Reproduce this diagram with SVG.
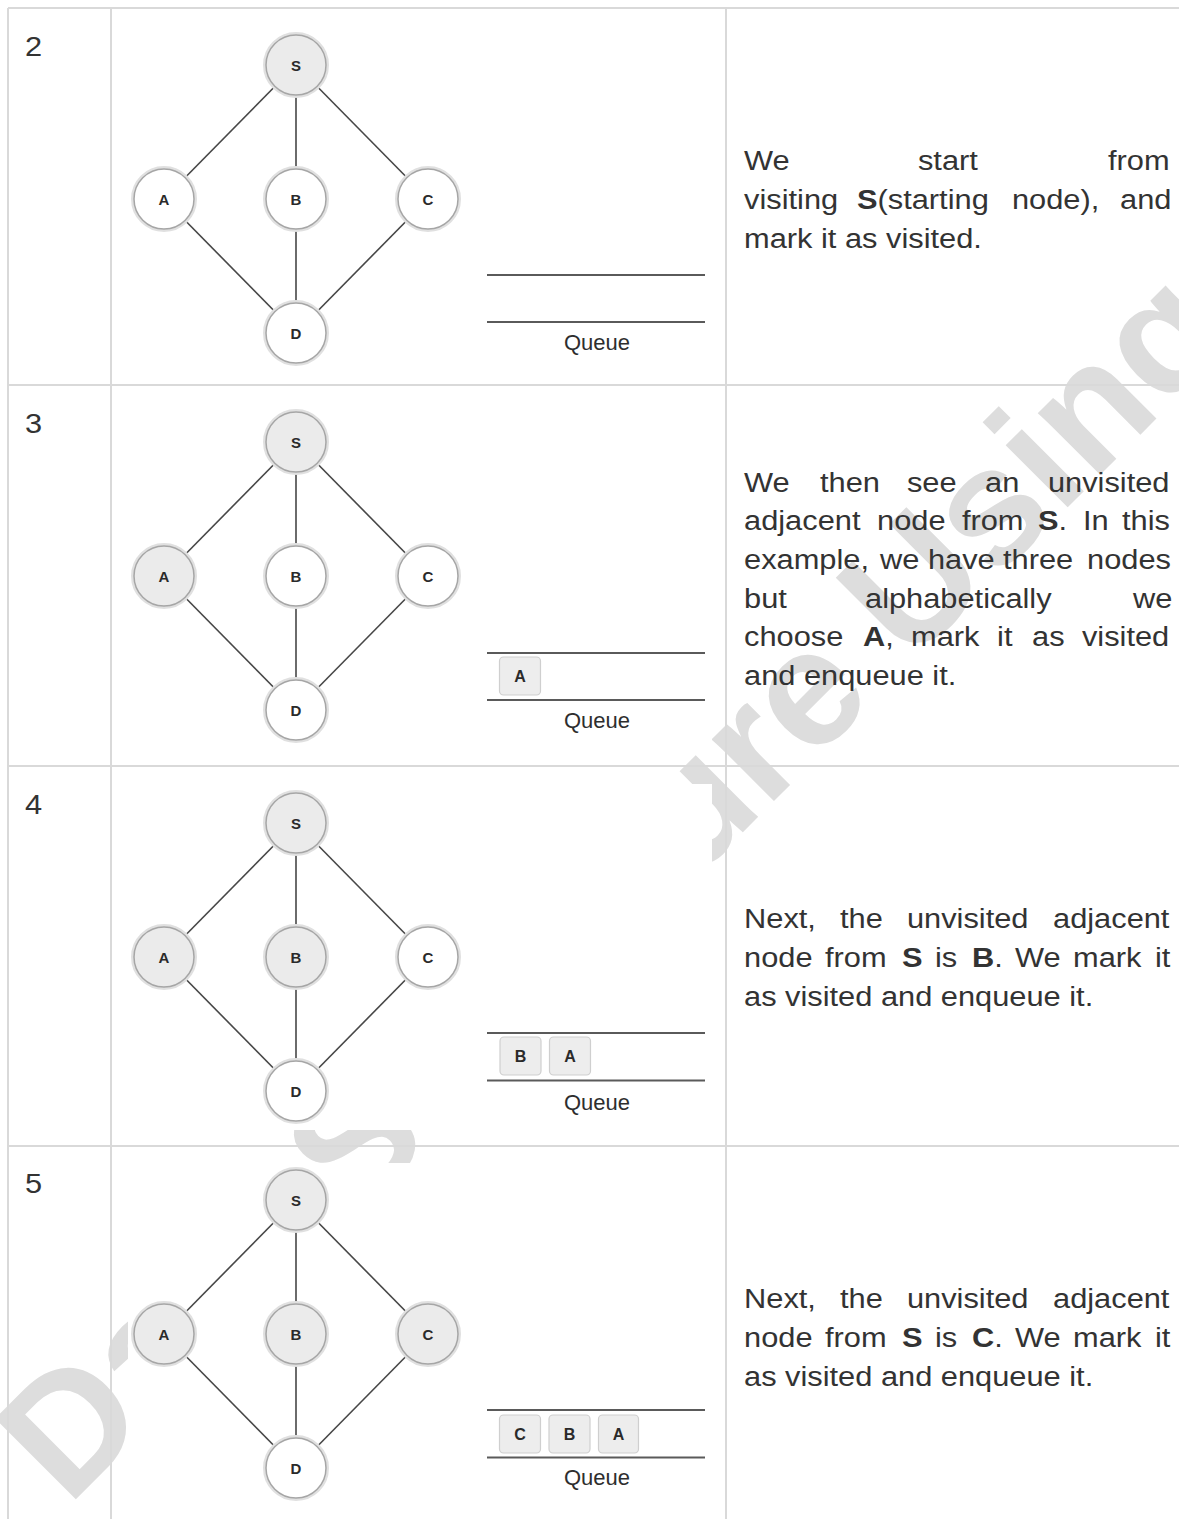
<svg xmlns="http://www.w3.org/2000/svg" width="1179" height="1519" viewBox="0 0 1179 1519">
<defs>
<style>
.grid{stroke:#d9d9d9;stroke-width:2;fill:none}
.wm{font-family:"Liberation Sans",Arial,sans-serif;font-weight:bold;font-size:166px;fill:#dddddd}
.img{fill:#ffffff}
.edge{stroke:#474747;stroke-width:1.6}
.halo{fill:none;stroke:#e0e0e0;stroke-width:3}
.n{fill:#ffffff;stroke:#a6a6a6;stroke-width:1.5}
.n.vis{fill:#ebebeb}
.nl{font-family:"Liberation Sans",Arial,sans-serif;font-weight:bold;font-size:15px;fill:#2a2a2a;text-anchor:middle}
.ql{stroke:#5a5a5a;stroke-width:2}
.qb{fill:#ededed;stroke:#cfcfcf;stroke-width:1.2}
.qt{font-family:"Liberation Sans",Arial,sans-serif;font-size:22px;fill:#2e2e2e;text-anchor:middle}
.txt{font-family:"Liberation Sans",Arial,sans-serif;font-size:28px;fill:#333333}
.b{font-weight:bold}
</style>
</defs>
<rect x="0" y="0" width="1179" height="1519" fill="#ffffff"/>

<!-- watermark -->
<text class="wm" transform="translate(68,1507) rotate(-45)">Data Structure Using C</text>

<!-- table grid -->
<g id="table">
<line class="grid" x1="8" y1="8" x2="1179" y2="8"/>
<line class="grid" x1="8" y1="8" x2="8" y2="1519"/>
<line class="grid" x1="111" y1="8" x2="111" y2="1519"/>
<line class="grid" x1="726" y1="8" x2="726" y2="1519"/>
<line class="grid" x1="8" y1="385" x2="1179" y2="385"/>
<line class="grid" x1="8" y1="766" x2="1179" y2="766"/>
<line class="grid" x1="8" y1="1146" x2="1179" y2="1146"/>
</g>

<!-- picture backgrounds -->
<rect class="img" x="128" y="26" width="584" height="346"/>
<rect class="img" x="128" y="403" width="584" height="346"/>
<rect class="img" x="128" y="784" width="584" height="346"/>
<rect class="img" x="128" y="1163" width="584" height="356"/>

<!-- connectors -->
<g id="connectors">
<g id="edges-r2">
<line class="edge" x1="296" y1="65" x2="164" y2="199"/>
<line class="edge" x1="296" y1="65" x2="296" y2="199"/>
<line class="edge" x1="296" y1="65" x2="428" y2="199"/>
<line class="edge" x1="164" y1="199" x2="296" y2="333"/>
<line class="edge" x1="296" y1="199" x2="296" y2="333"/>
<line class="edge" x1="428" y1="199" x2="296" y2="333"/>
</g>
<g id="edges-r3">
<line class="edge" x1="296" y1="442" x2="164" y2="576"/>
<line class="edge" x1="296" y1="442" x2="296" y2="576"/>
<line class="edge" x1="296" y1="442" x2="428" y2="576"/>
<line class="edge" x1="164" y1="576" x2="296" y2="710"/>
<line class="edge" x1="296" y1="576" x2="296" y2="710"/>
<line class="edge" x1="428" y1="576" x2="296" y2="710"/>
</g>
<g id="edges-r4">
<line class="edge" x1="296" y1="823" x2="164" y2="957"/>
<line class="edge" x1="296" y1="823" x2="296" y2="957"/>
<line class="edge" x1="296" y1="823" x2="428" y2="957"/>
<line class="edge" x1="164" y1="957" x2="296" y2="1091"/>
<line class="edge" x1="296" y1="957" x2="296" y2="1091"/>
<line class="edge" x1="428" y1="957" x2="296" y2="1091"/>
</g>
<g id="edges-r5">
<line class="edge" x1="296" y1="1200" x2="164" y2="1334"/>
<line class="edge" x1="296" y1="1200" x2="296" y2="1334"/>
<line class="edge" x1="296" y1="1200" x2="428" y2="1334"/>
<line class="edge" x1="164" y1="1334" x2="296" y2="1468"/>
<line class="edge" x1="296" y1="1334" x2="296" y2="1468"/>
<line class="edge" x1="428" y1="1334" x2="296" y2="1468"/>
</g>
</g>

<!-- row 2 nodes -->
<g id="r2-S"><circle class="halo" cx="296" cy="65" r="31.5"/><circle class="n vis" cx="296" cy="65" r="30"/><text class="nl" x="296" y="70.5">S</text></g>
<g id="r2-A"><circle class="halo" cx="164" cy="199" r="31.5"/><circle class="n" cx="164" cy="199" r="30"/><text class="nl" x="164" y="204.5">A</text></g>
<g id="r2-B"><circle class="halo" cx="296" cy="199" r="31.5"/><circle class="n" cx="296" cy="199" r="30"/><text class="nl" x="296" y="204.5">B</text></g>
<g id="r2-C"><circle class="halo" cx="428" cy="199" r="31.5"/><circle class="n" cx="428" cy="199" r="30"/><text class="nl" x="428" y="204.5">C</text></g>
<g id="r2-D"><circle class="halo" cx="296" cy="333" r="31.5"/><circle class="n" cx="296" cy="333" r="30"/><text class="nl" x="296" y="338.5">D</text></g>
<g id="r2-queue">
<line class="ql" x1="487" y1="275" x2="705" y2="275"/>
<line class="ql" x1="487" y1="322" x2="705" y2="322"/>
<text class="qt" x="597" y="350">Queue</text>
</g>

<!-- row 3 nodes -->
<g id="r3-S"><circle class="halo" cx="296" cy="442" r="31.5"/><circle class="n vis" cx="296" cy="442" r="30"/><text class="nl" x="296" y="447.5">S</text></g>
<g id="r3-A"><circle class="halo" cx="164" cy="576" r="31.5"/><circle class="n vis" cx="164" cy="576" r="30"/><text class="nl" x="164" y="581.5">A</text></g>
<g id="r3-B"><circle class="halo" cx="296" cy="576" r="31.5"/><circle class="n" cx="296" cy="576" r="30"/><text class="nl" x="296" y="581.5">B</text></g>
<g id="r3-C"><circle class="halo" cx="428" cy="576" r="31.5"/><circle class="n" cx="428" cy="576" r="30"/><text class="nl" x="428" y="581.5">C</text></g>
<g id="r3-D"><circle class="halo" cx="296" cy="710" r="31.5"/><circle class="n" cx="296" cy="710" r="30"/><text class="nl" x="296" y="715.5">D</text></g>
<g id="r3-queue">
<line class="ql" x1="487" y1="653" x2="705" y2="653"/>
<line class="ql" x1="487" y1="700" x2="705" y2="700"/>
<rect class="qb" x="499.5" y="657" width="41" height="38" rx="4"/>
<text class="nl" x="520" y="682" style="font-size:16px">A</text>
<text class="qt" x="597" y="728">Queue</text>
</g>

<!-- row 4 nodes -->
<g id="r4-S"><circle class="halo" cx="296" cy="823" r="31.5"/><circle class="n vis" cx="296" cy="823" r="30"/><text class="nl" x="296" y="828.5">S</text></g>
<g id="r4-A"><circle class="halo" cx="164" cy="957" r="31.5"/><circle class="n vis" cx="164" cy="957" r="30"/><text class="nl" x="164" y="962.5">A</text></g>
<g id="r4-B"><circle class="halo" cx="296" cy="957" r="31.5"/><circle class="n vis" cx="296" cy="957" r="30"/><text class="nl" x="296" y="962.5">B</text></g>
<g id="r4-C"><circle class="halo" cx="428" cy="957" r="31.5"/><circle class="n" cx="428" cy="957" r="30"/><text class="nl" x="428" y="962.5">C</text></g>
<g id="r4-D"><circle class="halo" cx="296" cy="1091" r="31.5"/><circle class="n" cx="296" cy="1091" r="30"/><text class="nl" x="296" y="1096.5">D</text></g>
<g id="r4-queue">
<line class="ql" x1="487" y1="1033" x2="705" y2="1033"/>
<line class="ql" x1="487" y1="1080.5" x2="705" y2="1080.5"/>
<rect class="qb" x="500" y="1037" width="41" height="38" rx="4"/>
<text class="nl" x="520.5" y="1062" style="font-size:16px">B</text>
<rect class="qb" x="549.5" y="1037" width="41" height="38" rx="4"/>
<text class="nl" x="570" y="1062" style="font-size:16px">A</text>
<text class="qt" x="597" y="1110">Queue</text>
</g>

<!-- row 5 nodes -->
<g id="r5-S"><circle class="halo" cx="296" cy="1200" r="31.5"/><circle class="n vis" cx="296" cy="1200" r="30"/><text class="nl" x="296" y="1205.5">S</text></g>
<g id="r5-A"><circle class="halo" cx="164" cy="1334" r="31.5"/><circle class="n vis" cx="164" cy="1334" r="30"/><text class="nl" x="164" y="1339.5">A</text></g>
<g id="r5-B"><circle class="halo" cx="296" cy="1334" r="31.5"/><circle class="n vis" cx="296" cy="1334" r="30"/><text class="nl" x="296" y="1339.5">B</text></g>
<g id="r5-C"><circle class="halo" cx="428" cy="1334" r="31.5"/><circle class="n vis" cx="428" cy="1334" r="30"/><text class="nl" x="428" y="1339.5">C</text></g>
<g id="r5-D"><circle class="halo" cx="296" cy="1468" r="31.5"/><circle class="n" cx="296" cy="1468" r="30"/><text class="nl" x="296" y="1473.5">D</text></g>
<g id="r5-queue">
<line class="ql" x1="487" y1="1410" x2="705" y2="1410"/>
<line class="ql" x1="487" y1="1457.5" x2="705" y2="1457.5"/>
<rect class="qb" x="499.5" y="1415" width="41" height="38" rx="4"/>
<text class="nl" x="520" y="1440" style="font-size:16px">C</text>
<rect class="qb" x="549" y="1415" width="41" height="38" rx="4"/>
<text class="nl" x="569.5" y="1440" style="font-size:16px">B</text>
<rect class="qb" x="598.5" y="1415" width="40" height="38" rx="4"/>
<text class="nl" x="618.5" y="1440" style="font-size:16px">A</text>
<text class="qt" x="597" y="1485">Queue</text>
</g>

<!-- texts (horizontally stretched) -->
<g id="texts" class="txt" transform="scale(1.1 1)">
<text x="22.7" y="56">2</text>
<text x="22.7" y="433">3</text>
<text x="22.7" y="814">4</text>
<text x="22.7" y="1193">5</text>

<text y="170"><tspan x="676.4">We</tspan><tspan x="834.5">start</tspan><tspan x="1007.3">from</tspan></text>
<text y="209"><tspan x="676.4">visiting</tspan><tspan x="779.1" class="b">S</tspan><tspan>(starting</tspan><tspan x="920">node),</tspan><tspan x="1018.2">and</tspan></text>
<text y="248" x="676.4">mark it as visited.</text>

<text y="491.7"><tspan x="676.4">We</tspan><tspan x="745.5">then</tspan><tspan x="824.5">see</tspan><tspan x="895.5">an</tspan><tspan x="952.7">unvisited</tspan></text>
<text y="530.4"><tspan x="676.4">adjacent</tspan><tspan x="797.3">node</tspan><tspan x="874.5">from</tspan><tspan x="943.6" class="b">S</tspan><tspan>.</tspan><tspan x="984.5">In</tspan><tspan x="1020">this</tspan></text>
<text y="569.1"><tspan x="676.4">example,</tspan><tspan x="800">we</tspan><tspan x="843.6">have</tspan><tspan x="911.8">three</tspan><tspan x="988.2">nodes</tspan></text>
<text y="607.8"><tspan x="676.4">but</tspan><tspan x="786.4">alphabetically</tspan><tspan x="1030">we</tspan></text>
<text y="646.5"><tspan x="676.4">choose</tspan><tspan x="784.5" class="b">A</tspan><tspan>,</tspan><tspan x="828.2">mark</tspan><tspan x="906.4">it</tspan><tspan x="938.2">as</tspan><tspan x="983.6">visited</tspan></text>
<text y="685.2" x="676.4">and enqueue it.</text>

<text y="928"><tspan x="676.4">Next,</tspan><tspan x="763.6">the</tspan><tspan x="824.5">unvisited</tspan><tspan x="957.3">adjacent</tspan></text>
<text y="967"><tspan x="676.4">node</tspan><tspan x="750">from</tspan><tspan x="820" class="b">S</tspan><tspan x="850">is</tspan><tspan x="883.6" class="b">B</tspan><tspan>.</tspan><tspan x="922.7">We</tspan><tspan x="975.5">mark</tspan><tspan x="1050">it</tspan></text>
<text y="1006" x="676.4">as visited and enqueue it.</text>

<text y="1308"><tspan x="676.4">Next,</tspan><tspan x="763.6">the</tspan><tspan x="824.5">unvisited</tspan><tspan x="957.3">adjacent</tspan></text>
<text y="1347"><tspan x="676.4">node</tspan><tspan x="750">from</tspan><tspan x="820" class="b">S</tspan><tspan x="850">is</tspan><tspan x="883.6" class="b">C</tspan><tspan>.</tspan><tspan x="922.7">We</tspan><tspan x="975.5">mark</tspan><tspan x="1050">it</tspan></text>
<text y="1386" x="676.4">as visited and enqueue it.</text>
</g>
</svg>
